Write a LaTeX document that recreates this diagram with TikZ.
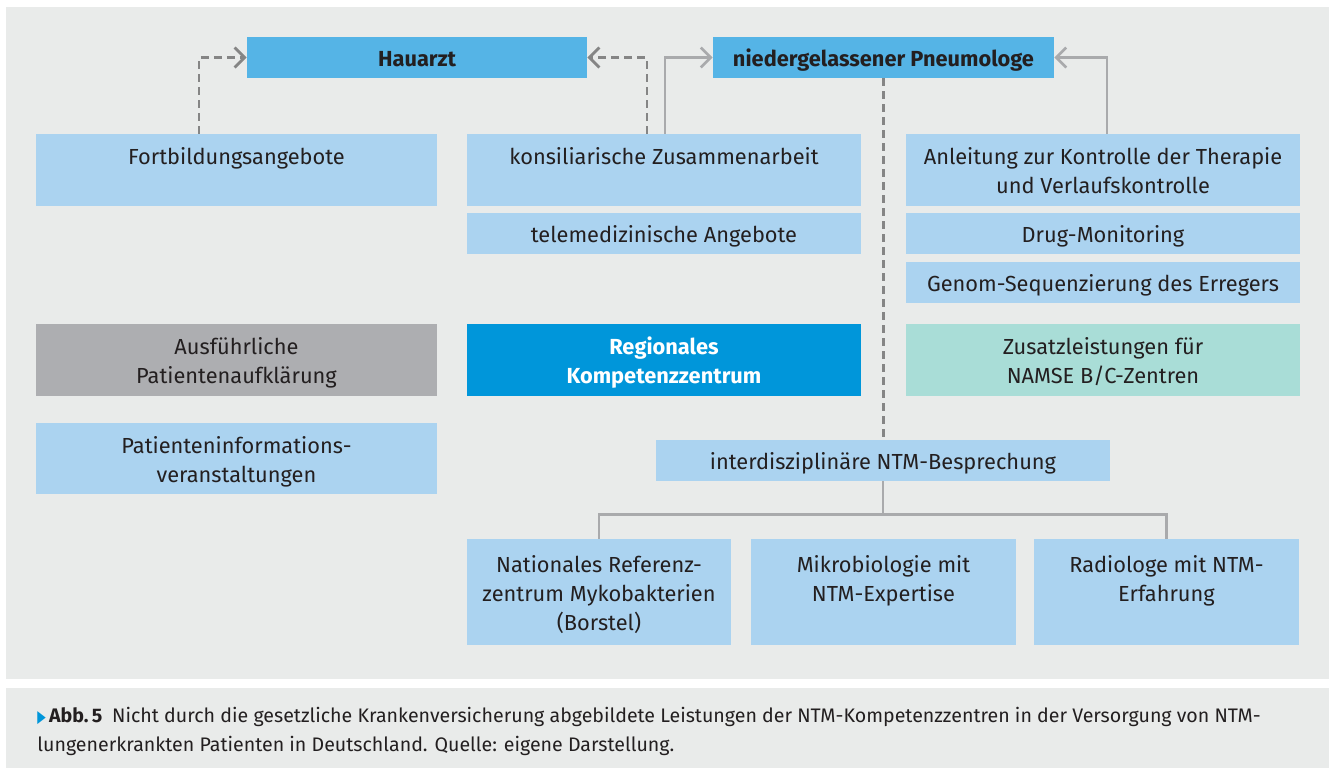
\documentclass[tikz,border=0pt]{standalone}
\usepackage{fontspec}
\setmainfont{Fira Sans}
\newfontfamily\symfont{DejaVu Sans}
\usetikzlibrary{arrows.meta}

\definecolor{panel}{HTML}{E9EBEA}
\definecolor{light}{HTML}{ABD3F0}
\definecolor{mid}{HTML}{55B4E6}
\definecolor{deep}{HTML}{0096DA}
\definecolor{stone}{HTML}{ADAEB1}
\definecolor{mint}{HTML}{A9DDD7}
\definecolor{dashgray}{HTML}{858585}
\definecolor{linegray}{HTML}{A9AAAC}
\definecolor{ink}{HTML}{231F20}
\newcommand{\boxfont}{\fontsize{10.9}{14.5}\selectfont}
\newcommand{\capfont}{\fontsize{9.8}{14.5}\selectfont}
\newcommand{\tstrut}{\rule{0pt}{13.8pt}}
\newcommand{\bstrut}{\rule[-4.35pt]{0pt}{4.35pt}}

\begin{document}
\begin{tikzpicture}[x=0.5pt,y=-0.5pt]
\tikzstyle{every node}+=[inner sep=0pt, text=ink, font=\boxfont]
\tikzstyle{box}=[fill=light, align=center]
\tikzstyle{wide}=[minimum width=200.5pt]
\tikzstyle{col}=[minimum width=197pt]
\tikzstyle{tall}=[minimum height=36pt]
\tikzstyle{low}=[minimum height=20.5pt]
\tikzstyle{dashline}=[draw=dashgray, line width=1.4pt, dash pattern=on 4pt off 2.5pt, -{Straight Barb[length=5pt,width=10pt]}]
\tikzstyle{solidline}=[draw=linegray, line width=1.3pt, -{Straight Barb[length=5pt,width=10pt]}]
\tikzstyle{treeline}=[draw=linegray, line width=1.3pt]
\fill [white] (0,0) rectangle (1335,768);
\useasboundingbox (0,0) rectangle (1335,768);
\fill [panel] (6,7) rectangle (1329,679);
\fill [panel] (6,688) rectangle (1329,768);
\node [box, fill=mid, minimum width=170pt, low, font=\boxfont\bfseries] (haus) at (417,57.5) {\tstrut Hauarzt\bstrut};
\node [box, fill=mid, minimum width=170.5pt, low, font=\boxfont\bfseries] (pneu) at (883.5,57.5) {\tstrut niedergelassener Pneumologe\bstrut};
\node [box, wide, tall] (fort) at (236.5,170) {\tstrut Fortbildungsangebote\\\bstrut};
\node [box, col, tall] (kons) at (664,170) {\tstrut konsiliarische Zusammenarbeit\\\bstrut};
\node [box, col, tall] (anl) at (1103,170) {\tstrut Anleitung zur Kontrolle der Therapie\\und Verlaufskontrolle\bstrut};
\node [box, col, low] (tele) at (664,233.5) {\tstrut telemedizinische Angebote\bstrut};
\node [box, col, low] (drug) at (1103,233.5) {\tstrut Drug-Monitoring\bstrut};
\node [box, col, low] (genom) at (1103,282.5) {\tstrut Genom-Sequenzierung des Erregers\bstrut};
\node [box, wide, tall, fill=stone] (ausf) at (236.5,360) {\tstrut Ausführliche\\Patientenaufklärung\bstrut};
\node [box, col, tall, fill=deep, text=white, font=\boxfont\bfseries] (reg) at (664,360) {\tstrut Regionales\\Kompetenzzentrum\bstrut};
\node [box, col, tall, fill=mint] (zus) at (1103,360) {\tstrut Zusatzleistungen für\\NAMSE B/C-Zentren\bstrut};
\node [box, wide, minimum height=35.5pt] (pinfo) at (236.5,458.5) {\tstrut Patienteninformations-\\veranstaltungen\bstrut};
\node [box, minimum width=227pt, low] (inter) at (883,460.5) {\tstrut interdisziplinäre NTM-Besprechung\bstrut};
\node [box, minimum width=132pt, minimum height=53pt] (nat) at (599,592) {\tstrut Nationales Referenz-\\zentrum Mykobakterien\\(Borstel)\bstrut};
\node [box, minimum width=132.5pt, minimum height=53pt] (mikro) at (883.5,592) {\tstrut Mikrobiologie mit\\NTM-Expertise\\\bstrut};
\node [box, minimum width=132.5pt, minimum height=53pt] (radio) at (1166.5,592) {\tstrut Radiologe mit NTM-\\Erfahrung\\\bstrut};
\draw [dashline] (199,0 |- fort.north) |- (haus.west);
\draw [dashline] (647,0 |- kons.north) |- (haus.east);
\draw [solidline] (665,0 |- kons.north) |- (pneu.west);
\draw [solidline] (1107,0 |- anl.north) |- (pneu.east);
\draw [dashline, -] (pneu.south) -- (pneu.south |- inter.north);
\coordinate (bar) at (883,514.5);
\draw [treeline] (inter.south) -- (bar);
\draw [treeline] (nat.north) |- (bar) -| (radio.north);
\node [anchor=west, align=left, font=\capfont] (cap) at (37,731.5) {{\color{deep}\symfont\fontsize{8.5}{8.5}\selectfont\scalebox{0.65}[1]{▶}}\,\textbf{Abb.\,5}\enspace Nicht durch die gesetzliche Krankenversicherung abgebildete Leistungen der NTM-Kompetenzzentren in der Versorgung von NTM-\\lungenerkrankten Patienten in Deutschland. Quelle: eigene Darstellung.};
\end{tikzpicture}
\end{document}
